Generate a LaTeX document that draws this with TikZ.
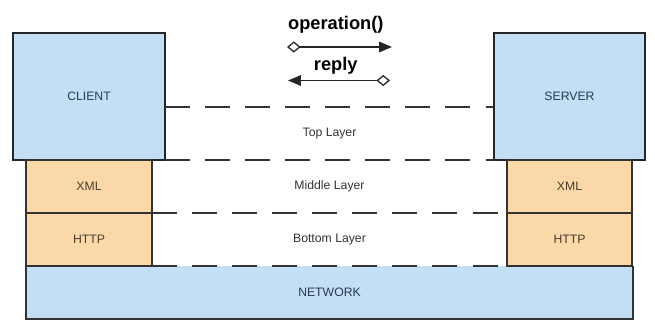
\documentclass[tikz,border=0pt]{standalone}
\usepackage{fontspec}
\setmainfont{Liberation Sans}
\usepackage{tikz}
\usetikzlibrary{arrows.meta,positioning}
\usepackage{xcolor}
\definecolor{hostblue}{HTML}{C2DFF5}
\definecolor{stackorange}{HTML}{FAD8A8}
\definecolor{labelnavy}{HTML}{2B3A55}
\definecolor{labelbrown}{HTML}{4A3C2E}

\begin{document}
\begin{tikzpicture}[line cap=butt,
  font=\fontsize{8.7}{10}\selectfont,
  hostbox/.style={draw=black!85,line width=1.5pt,fill=hostblue,text=labelnavy,inner sep=0pt,outer sep=0pt},
  stackbox/.style={draw=black!80,line width=0.8pt,fill=stackorange,text=labelbrown,minimum width=3.15cm,minimum height=1.325cm,inner sep=0pt,outer sep=0pt},
  layerline/.style={black!80,line width=1pt,dash pattern=on 17.8pt off 10.7pt},
  layerlabel/.style={text=black!80},
  callarrow/.style={black!85,line width=1.1pt,{Diamond[open,length=3.4mm,width=2.8mm,line width=0.9pt]}-{Triangle[length=3.2mm,width=2.6mm]}}]
\useasboundingbox (0,0) rectangle (16.375,8.2);
\node[hostbox,minimum width=3.8cm,minimum height=3.175cm] (client) at (2.225,5.7875) {CLIENT};
\node[hostbox,minimum width=3.775cm,minimum height=3.175cm] (server) at (14.2375,5.7875) {SERVER};
\node[stackbox,below=0pt of client] (clxml) {XML};
\node[stackbox,below=0pt of clxml] (clhttp) {HTTP};
\node[stackbox,minimum width=3.125cm,below=0pt of server] (svxml) {XML};
\node[stackbox,minimum width=3.125cm,below=0pt of svxml] (svhttp) {HTTP};
\node[fill=hostblue,text=labelnavy,anchor=north west,minimum width=15.175cm,minimum height=1.325cm,inner sep=0pt,outer sep=0pt] (network) at (clhttp.south west) {NETWORK};
\draw[black!80,line width=0.8pt] (network.north west) |- (network.south east) -- (network.north east);
\draw[stackbox,fill=none] (clxml.north west) rectangle (clhttp.south east);
\draw[stackbox,fill=none] (svxml.north west) rectangle (svhttp.south east);
\draw[layerline] (client.east |- 0,5.525) -- (server.west |- 0,5.525);
\draw[layerline] (client.south east) -- (server.south west);
\draw[layerline] (clxml.south east) -- (svxml.south west);
\draw[layerline] (clhttp.south east) -- (svhttp.south west);
\node[layerlabel] (toplayer) at (8.2375,4.8625) {Top Layer};
\node[layerlabel] (midlayer) at (8.2375,3.5375) {Middle Layer};
\node[layerlabel] (botlayer) at (8.2375,2.2125) {Bottom Layer};
\node[anchor=base,font=\fontsize{13}{15}\selectfont\bfseries] (opname) at (8.395,7.45) {operation()};
\node[anchor=base,font=\fontsize{13}{15}\selectfont\bfseries] (replyname) at (8.395,6.43) {reply};
\coordinate (opfrom) at (7.175,7.025);
\coordinate (opto) at (9.8,7.025);
\coordinate (replyfrom) at (9.75,6.1875);
\coordinate (replyto) at (7.2,6.1875);
\draw[callarrow] (opfrom) -- (opto);
\draw[callarrow] (replyfrom) -- (replyto);
\end{tikzpicture}
\end{document}
